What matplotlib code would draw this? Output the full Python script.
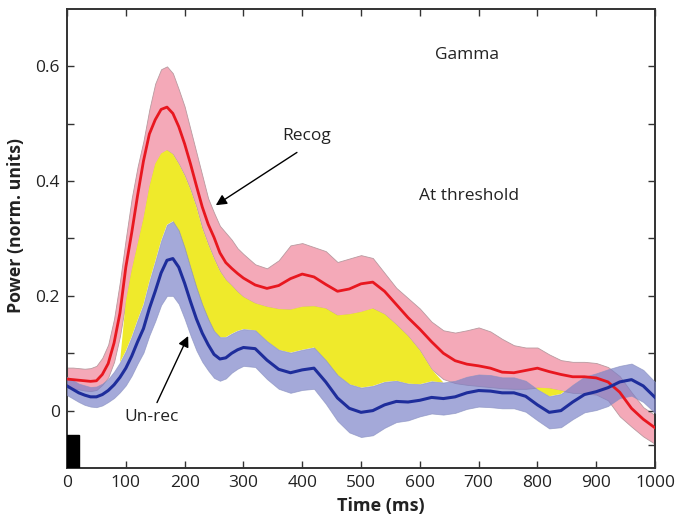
import numpy as np
import matplotlib
matplotlib.use("Agg")
import matplotlib.pyplot as plt
from matplotlib.patches import Rectangle

plt.rcParams['font.family'] = ['Open Sans', 'DejaVu Sans']

# ---- data ----
time_ms = list(range(0, 301, 10)) + list(range(320, 1001, 20))

recog_mean = [0.055, 0.054, 0.053, 0.052, 0.051, 0.052, 0.063, 0.082, 0.118, 0.170,
              0.250, 0.310, 0.375, 0.435, 0.482, 0.507, 0.525, 0.529, 0.518, 0.495,
              0.465, 0.430, 0.392, 0.355, 0.325, 0.302, 0.275, 0.258, 0.248, 0.239,
              0.231,
              0.219, 0.213, 0.218, 0.230, 0.238, 0.233, 0.220, 0.208, 0.212, 0.221,
              0.224, 0.208, 0.185, 0.162, 0.142, 0.120, 0.100, 0.087, 0.081, 0.078,
              0.074, 0.067, 0.066, 0.070, 0.074, 0.068, 0.063, 0.059, 0.059, 0.057,
              0.050, 0.032, 0.004, -0.015, -0.030]
recog_upper = [0.075, 0.075, 0.074, 0.073, 0.074, 0.078, 0.092, 0.115, 0.160, 0.225,
               0.300, 0.370, 0.425, 0.470, 0.525, 0.570, 0.595, 0.600, 0.588, 0.560,
               0.530, 0.490, 0.450, 0.410, 0.370, 0.345, 0.322, 0.310, 0.298, 0.283,
               0.273,
               0.255, 0.248, 0.262, 0.288, 0.292, 0.285, 0.278, 0.259, 0.265, 0.271,
               0.266, 0.240, 0.214, 0.196, 0.178, 0.155, 0.140, 0.136, 0.140, 0.145,
               0.138, 0.125, 0.114, 0.110, 0.110, 0.098, 0.088, 0.085, 0.085, 0.083,
               0.076, 0.060, 0.032, 0.006, -0.008]
recog_lower = [0.040, 0.039, 0.037, 0.035, 0.034, 0.036, 0.045, 0.058, 0.085, 0.130,
               0.190, 0.245, 0.290, 0.335, 0.390, 0.430, 0.448, 0.454, 0.447, 0.430,
               0.410, 0.385, 0.355, 0.318, 0.290, 0.265, 0.243, 0.228, 0.218, 0.207,
               0.198,
               0.187, 0.181, 0.177, 0.176, 0.181, 0.182, 0.178, 0.166, 0.168, 0.172,
               0.178, 0.168, 0.150, 0.130, 0.105, 0.072, 0.055, 0.048, 0.045, 0.043,
               0.041, 0.039, 0.038, 0.038, 0.040, 0.039, 0.035, 0.031, 0.030, 0.028,
               0.018, -0.010, -0.028, -0.045, -0.058]

unrec_mean = [0.043, 0.037, 0.031, 0.027, 0.024, 0.024, 0.028, 0.035, 0.045, 0.058,
              0.074, 0.095, 0.120, 0.143, 0.178, 0.208, 0.240, 0.262, 0.265, 0.250,
              0.222, 0.190, 0.160, 0.135, 0.115, 0.098, 0.090, 0.092, 0.100, 0.106,
              0.110,
              0.108, 0.088, 0.072, 0.066, 0.071, 0.074, 0.050, 0.022, 0.004, -0.003,
              0.000, 0.010, 0.016, 0.015, 0.018, 0.023, 0.021, 0.024, 0.031, 0.035,
              0.034, 0.031, 0.031, 0.025, 0.010, -0.003, 0.000, 0.015, 0.028, 0.033,
              0.040, 0.050, 0.054, 0.043, 0.023]
unrec_halfwidth = [0.016, 0.016, 0.016, 0.017, 0.017, 0.018, 0.019, 0.020, 0.023, 0.026,
                   0.030, 0.034, 0.038, 0.042, 0.047, 0.052, 0.056, 0.062, 0.065, 0.064,
                   0.062, 0.059, 0.055, 0.050, 0.045, 0.041, 0.038, 0.036, 0.034, 0.033,
                   0.032,
                   0.032, 0.033, 0.034, 0.035, 0.035, 0.036, 0.038, 0.040, 0.042, 0.043,
                   0.043, 0.040, 0.036, 0.032, 0.028, 0.028, 0.028, 0.028, 0.028, 0.028,
                   0.028, 0.027, 0.027, 0.027, 0.027, 0.028, 0.029, 0.030, 0.031, 0.032,
                   0.032, 0.028, 0.028, 0.028, 0.027]

sig_windows = [(100, 620), (800, 840)]

y_major = [0, 0.2, 0.4, 0.6]
y_major_labels = ["0", "0.2", "0.4", "0.6"]
y_minor = [-0.06, 0.1, 0.3, 0.5]
x_ticks = list(range(0, 1001, 100))

# ---- figure ----
fig = plt.figure(figsize=(6.75, 5.17), dpi=100)
ax = fig.add_axes([0.0993, 0.0948, 0.8711, 0.8878])

t = np.array(time_ms, dtype=float)
rm = np.array(recog_mean); ru = np.array(recog_upper); rl = np.array(recog_lower)
bm = np.array(unrec_mean); bh = np.array(unrec_halfwidth)
bu = bm + bh; bl = bm - bh

pink = '#F4A9B8'
lav = '#7980C8'
yellow = '#EFEA2B'

ax.fill_between(t, rl, ru, color=pink, edgecolor='#b89aa0', linewidth=0.6, zorder=1)

mask = np.zeros_like(t, dtype=bool)
for a, b in sig_windows:
    mask |= (t >= a) & (t <= b)
ax.fill_between(t, bu, rl, where=mask & (rl > bu), interpolate=True,
                color=yellow, linewidth=0, zorder=2)

ax.fill_between(t, bl, bu, color=lav, alpha=0.68, edgecolor='#8890c0',
                linewidth=0.6, zorder=3)

ax.plot(t, rm, color='#E8171F', lw=2.0, zorder=4, solid_joinstyle='round')
ax.plot(t, bm, color='#1E2D9B', lw=2.2, zorder=5, solid_joinstyle='round')

ax.add_patch(Rectangle((0, -0.1), 21, 0.058, color='black', zorder=6))

ax.set_xlim(0, 1000)
ax.set_ylim(-0.1, 0.7)
ax.set_xticks(x_ticks)
ax.set_xticklabels([str(v) for v in x_ticks])
ax.set_yticks(y_major)
ax.set_yticklabels(y_major_labels)
ax.set_yticks(y_minor, minor=True)
ax.tick_params(which='both', direction='in', top=True, right=True, length=5,
               width=1, color='#333333', labelsize=12.5, labelcolor='#222222', pad=5)
for s in ax.spines.values():
    s.set_linewidth(1.4)
    s.set_color('#333333')

ax.set_ylabel('Power (norm. units)', fontsize=12.8, fontweight='bold', color='#222222')
ax.yaxis.set_label_coords(-0.071, 0.529)
ax.set_xlabel('Time (ms)', fontsize=13, fontweight='bold', color='#222222')
ax.xaxis.set_label_coords(0.534, -0.063)

txt = dict(fontsize=12.5, color='#222222', ha='center', va='center')
ax.text(680, 0.619, 'Gamma', **txt)
ax.text(684, 0.374, 'At threshold', **txt)
ax.text(408, 0.478, 'Recog', **txt)
ax.text(143, -0.012, 'Un-rec', **txt)

arrow = dict(arrowstyle='-|>', color='black', lw=1.0, mutation_scale=16, shrinkA=0, shrinkB=0)
ax.annotate('', xy=(253, 0.358), xytext=(391, 0.45), arrowprops=arrow, zorder=7)
ax.annotate('', xy=(206, 0.13), xytext=(153, 0.014), arrowprops=arrow, zorder=7)

fig.savefig('out.png', dpi=100)
